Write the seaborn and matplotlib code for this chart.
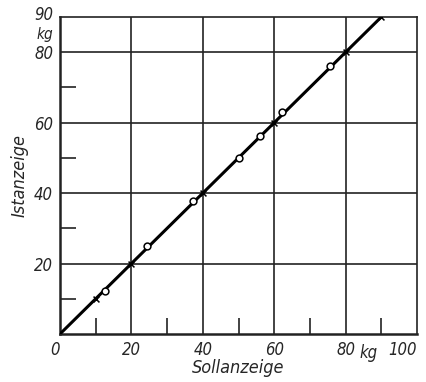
import matplotlib
matplotlib.use("Agg")
import matplotlib.pyplot as plt
import matplotlib.transforms as mtransforms
import seaborn as sns
import pandas as pd

# Data
line_x = [0, 90]
line_y = [0, 90]
cross_x = [10, 20, 40, 60, 80, 90]
cross_y = [10, 20, 40, 60, 80, 90]
circle_x = [12.6, 24.3, 37.3, 50.1, 56.0, 62.3, 75.6]
circle_y = [12.3, 24.9, 37.7, 50.1, 56.1, 63.0, 76.1]
x_ticks = [0, 20, 40, 60, 80, 100]
y_ticks = [20, 40, 60, 80, 90]
x_minor = [10, 30, 50, 70, 90]
y_minor = [10, 30, 50, 70]

sns.set_theme(style="white")
plt.rcParams['font.family'] = ['DejaVu Sans Condensed', 'Liberation Sans Narrow', 'DejaVu Sans']
plt.rcParams['font.stretch'] = 'condensed'

fig = plt.figure(figsize=(4.27, 3.82), dpi=100)
ax = fig.add_axes([0.1405, 0.1257, 0.8361, 0.8298])

df_line = pd.DataFrame({"x": line_x, "y": line_y})
df_cross = pd.DataFrame({"x": cross_x, "y": cross_y})
df_circle = pd.DataFrame({"x": circle_x, "y": circle_y})

ax.set_xlim(0, 100)
ax.set_ylim(0, 90)

# grid lines
for g in [20, 40, 60, 80]:
    ax.axvline(g, color="#222222", lw=1.2, zorder=1)
    ax.axhline(g, color="#222222", lw=1.2, zorder=1)

sns.lineplot(data=df_line, x="x", y="y", ax=ax, color="black", lw=2.2, zorder=3)
sns.scatterplot(data=df_cross, x="x", y="y", ax=ax, marker="x", s=18,
                color="black", linewidth=1.1, zorder=4)
sns.scatterplot(data=df_circle, x="x", y="y", ax=ax, marker="o", s=24,
                facecolor="white", edgecolor="black", linewidth=1.1, zorder=4)

for s in ax.spines.values():
    s.set_color("#222222")
    s.set_linewidth(1.2)
ax.spines["left"].set_linewidth(1.8)
ax.spines["bottom"].set_linewidth(1.8)

ax.set_xticks(x_ticks)
ax.set_yticks(y_ticks)
ax.set_xticks(x_minor, minor=True)
ax.set_yticks(y_minor, minor=True)
ax.tick_params(which="major", length=0, pad=5)
ax.tick_params(which="minor", direction="in", length=11.5, width=1.2,
               color="#222222", bottom=True, left=True)

fs = 12
ax.set_xticklabels([str(v) for v in x_ticks], fontsize=fs, style="italic")
ax.set_yticklabels([str(v) for v in y_ticks], fontsize=fs, style="italic")
xt = ax.get_xticklabels()
xt[0].set_horizontalalignment("right")
xt[-1].set_horizontalalignment("right")
yt = ax.get_yticklabels()
lab90 = yt[-1]
lab90.set_transform(lab90.get_transform() +
                    mtransforms.ScaledTranslation(0, 3 / 72, fig.dpi_scale_trans))
ax.text(86.5, -2.8, "kg", ha="center", va="top", fontsize=fs, style="italic")
ax.text(-1.8, 84.9, "kg", ha="right", va="center", fontsize=11, style="italic")

ax.set_xlabel("Sollanzeige", fontsize=13, style="italic", labelpad=0)
ax.set_ylabel("Istanzeige", fontsize=13, style="italic", labelpad=4)

fig.savefig("out.png", dpi=100)
